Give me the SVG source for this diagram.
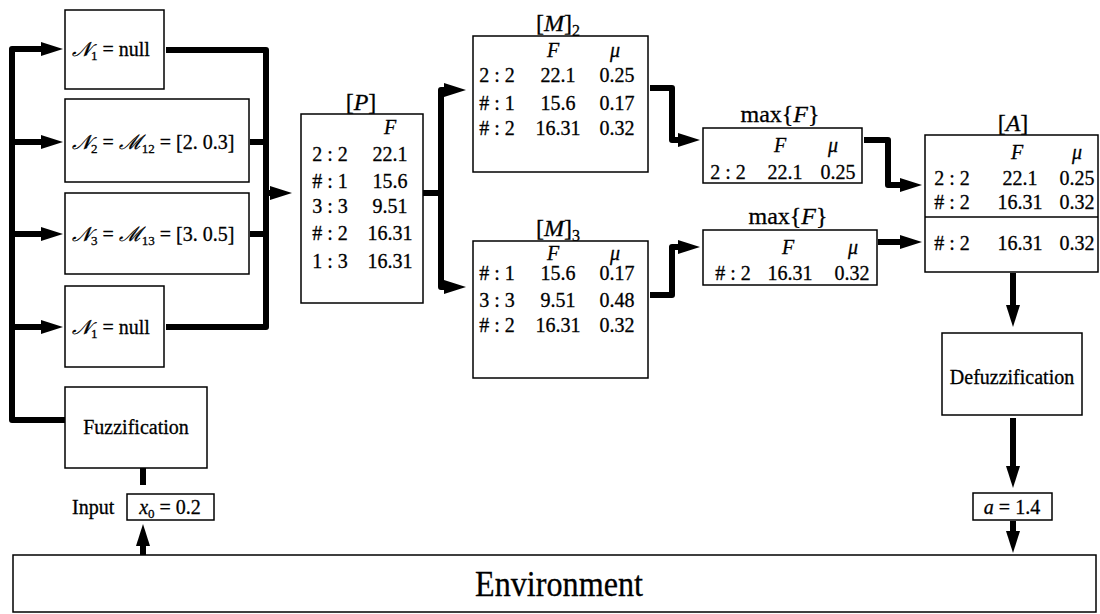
<svg xmlns="http://www.w3.org/2000/svg" width="1100" height="614" viewBox="0 0 1100 614">
<style>
.box{fill:#fff;stroke:#000;stroke-width:1.5}
.t{font-family:"Liberation Serif","DejaVu Serif",serif;font-size:20px;fill:#000;stroke:#000;stroke-width:0.3}
.c{text-anchor:middle}
.i{font-style:italic}
.s{font-size:13px}
.ttl{font-family:"Liberation Serif","DejaVu Serif",serif;font-size:24px;fill:#000;text-anchor:middle;stroke:#000;stroke-width:0.3}
.w{fill:none;stroke:#000;stroke-width:6;stroke-linejoin:round}
</style>
<defs>
<marker id="ah" markerUnits="userSpaceOnUse" markerWidth="22" markerHeight="14" refX="0" refY="7" orient="auto" viewBox="0 0 22 14">
<path d="M0,0 L22,7 L0,14 z" fill="#000"/>
</marker>
</defs>
<g id="connectors">
<path class="w" d="M65,420 H12 V49 H41" marker-end="url(#ah)"/>
<path class="w" d="M12,142 H41" marker-end="url(#ah)"/>
<path class="w" d="M12,234 H41" marker-end="url(#ah)"/>
<path class="w" d="M12,327 H41" marker-end="url(#ah)"/>
<path class="w" d="M166,50 H266 V327 H166"/>
<path class="w" d="M250,142 H266"/>
<path class="w" d="M250,234 H266"/>
<path class="w" d="M266,193 H270" marker-end="url(#ah)"/>
<path class="w" d="M423,193 H441 V90 H444" marker-end="url(#ah)"/>
<path class="w" d="M441,193 V287 H444" marker-end="url(#ah)"/>
<path class="w" d="M650,88 H672 V140 H678" marker-end="url(#ah)"/>
<path class="w" d="M650,295 H672 V247 H678" marker-end="url(#ah)"/>
<path class="w" d="M864,140 H888 V185 H900" marker-end="url(#ah)"/>
<path class="w" d="M878,242 H900" marker-end="url(#ah)"/>
<path class="w" d="M1013,273 V305" marker-end="url(#ah)"/>
<path class="w" d="M1013,418 V466" marker-end="url(#ah)"/>
<path class="w" d="M1013,521 V531" marker-end="url(#ah)"/>
<path class="w" d="M143,468 V485"/>
<path class="w" d="M143,555 V546" marker-end="url(#ah)"/>
</g>
<g id="n1">
<rect class="box" x="65" y="10" width="99" height="79"/>
<text class="t" x="72" y="56"><tspan class="i">𝒩</tspan><tspan class="s" dy="4">1</tspan><tspan dy="-4"> = null</tspan></text>
</g>
<g id="n2">
<rect class="box" x="65" y="99" width="184" height="83"/>
<text class="t" x="72" y="149"><tspan class="i">𝒩</tspan><tspan class="s" dy="4">2</tspan><tspan dy="-4"> = </tspan><tspan class="i">ℳ</tspan><tspan class="s" dy="4">12</tspan><tspan dy="-4"> = [2. 0.3]</tspan></text>
</g>
<g id="n3">
<rect class="box" x="65" y="193" width="184" height="81"/>
<text class="t" x="72" y="241"><tspan class="i">𝒩</tspan><tspan class="s" dy="4">3</tspan><tspan dy="-4"> = </tspan><tspan class="i">ℳ</tspan><tspan class="s" dy="4">13</tspan><tspan dy="-4"> = [3. 0.5]</tspan></text>
</g>
<g id="n4">
<rect class="box" x="65" y="286" width="99" height="81"/>
<text class="t" x="72" y="334"><tspan class="i">𝒩</tspan><tspan class="s" dy="4">1</tspan><tspan dy="-4"> = null</tspan></text>
</g>
<g id="fuzz">
<rect class="box" x="65" y="387" width="142" height="81"/>
<text class="t c" x="136" y="434">Fuzzification</text>
</g>
<g id="input">
<text class="t" x="72" y="514">Input</text>
<rect class="box" x="127" y="494" width="87" height="26"/>
<text class="t c" x="170" y="514"><tspan class="i">x</tspan><tspan class="s" dy="4">0</tspan><tspan dy="-4"> = 0.2</tspan></text>
</g>
<g id="p">
<text class="ttl" x="361" y="110">[<tspan class="i">P</tspan>]</text>
<rect class="box" x="301" y="114" width="122" height="189"/>
<text class="t c i" x="390" y="134">F</text>
<text class="t c" x="330" y="161">2 : 2</text><text class="t c" x="390" y="161">22.1</text>
<text class="t c" x="330" y="188"># : 1</text><text class="t c" x="390" y="188">15.6</text>
<text class="t c" x="330" y="213">3 : 3</text><text class="t c" x="390" y="213">9.51</text>
<text class="t c" x="330" y="240"># : 2</text><text class="t c" x="390" y="240">16.31</text>
<text class="t c" x="330" y="268">1 : 3</text><text class="t c" x="390" y="268">16.31</text>
</g>
<g id="m2">
<text class="ttl" x="558" y="31">[<tspan class="i">M</tspan>]<tspan style="font-size:16px" dy="5">2</tspan></text>
<rect class="box" x="473" y="36" width="175" height="136"/>
<text class="t c i" x="553" y="57">F</text><text class="t c i" x="615" y="57">μ</text>
<text class="t c" x="497" y="82">2 : 2</text><text class="t c" x="558" y="82">22.1</text><text class="t c" x="617" y="82">0.25</text>
<text class="t c" x="497" y="110"># : 1</text><text class="t c" x="558" y="110">15.6</text><text class="t c" x="617" y="110">0.17</text>
<text class="t c" x="497" y="135"># : 2</text><text class="t c" x="558" y="135">16.31</text><text class="t c" x="617" y="135">0.32</text>
</g>
<g id="m3">
<text class="ttl" x="558" y="236">[<tspan class="i">M</tspan>]<tspan style="font-size:16px" dy="5">3</tspan></text>
<rect class="box" x="473" y="241" width="175" height="137"/>
<text class="t c i" x="553" y="260">F</text><text class="t c i" x="615" y="260">μ</text>
<text class="t c" x="497" y="280"># : 1</text><text class="t c" x="558" y="280">15.6</text><text class="t c" x="617" y="280">0.17</text>
<text class="t c" x="497" y="307">3 : 3</text><text class="t c" x="558" y="307">9.51</text><text class="t c" x="617" y="307">0.48</text>
<text class="t c" x="497" y="332"># : 2</text><text class="t c" x="558" y="332">16.31</text><text class="t c" x="617" y="332">0.32</text>
</g>
<g id="max1">
<text class="ttl" x="780" y="122">max{<tspan class="i">F</tspan>}</text>
<rect class="box" x="703" y="128" width="159" height="55"/>
<text class="t c i" x="780" y="152">F</text><text class="t c i" x="833" y="152">μ</text>
<text class="t c" x="728" y="179">2 : 2</text><text class="t c" x="785" y="179">22.1</text><text class="t c" x="838" y="179">0.25</text>
</g>
<g id="max2">
<text class="ttl" x="788" y="224">max{<tspan class="i">F</tspan>}</text>
<rect class="box" x="703" y="230" width="174" height="55"/>
<text class="t c i" x="788" y="254">F</text><text class="t c i" x="853" y="254">μ</text>
<text class="t c" x="733" y="280"># : 2</text><text class="t c" x="790" y="280">16.31</text><text class="t c" x="852" y="280">0.32</text>
</g>
<g id="a">
<text class="ttl" x="1013" y="131">[<tspan class="i">A</tspan>]</text>
<rect class="box" x="925" y="135" width="173" height="137"/>
<line x1="925" y1="217" x2="1098" y2="217" stroke="#000" stroke-width="1.5"/>
<text class="t c i" x="1017" y="159">F</text><text class="t c i" x="1077" y="159">μ</text>
<text class="t c" x="952" y="185">2 : 2</text><text class="t c" x="1020" y="185">22.1</text><text class="t c" x="1077" y="185">0.25</text>
<text class="t c" x="952" y="209"># : 2</text><text class="t c" x="1020" y="209">16.31</text><text class="t c" x="1077" y="209">0.32</text>
<text class="t c" x="952" y="250"># : 2</text><text class="t c" x="1020" y="250">16.31</text><text class="t c" x="1077" y="250">0.32</text>
</g>
<g id="defuzz">
<rect class="box" x="942" y="333" width="140" height="82"/>
<text class="t c" x="1012" y="384">Defuzzification</text>
</g>
<g id="output">
<rect class="box" x="973" y="493" width="79" height="27"/>
<text class="t c" x="1012" y="514"><tspan class="i">a</tspan> = 1.4</text>
</g>
<g id="env">
<rect class="box" x="13" y="555" width="1083" height="57"/>
<text class="t c" x="559" y="596" style="font-size:36px" textLength="168" lengthAdjust="spacingAndGlyphs">Environment</text>
</g>
</svg>
